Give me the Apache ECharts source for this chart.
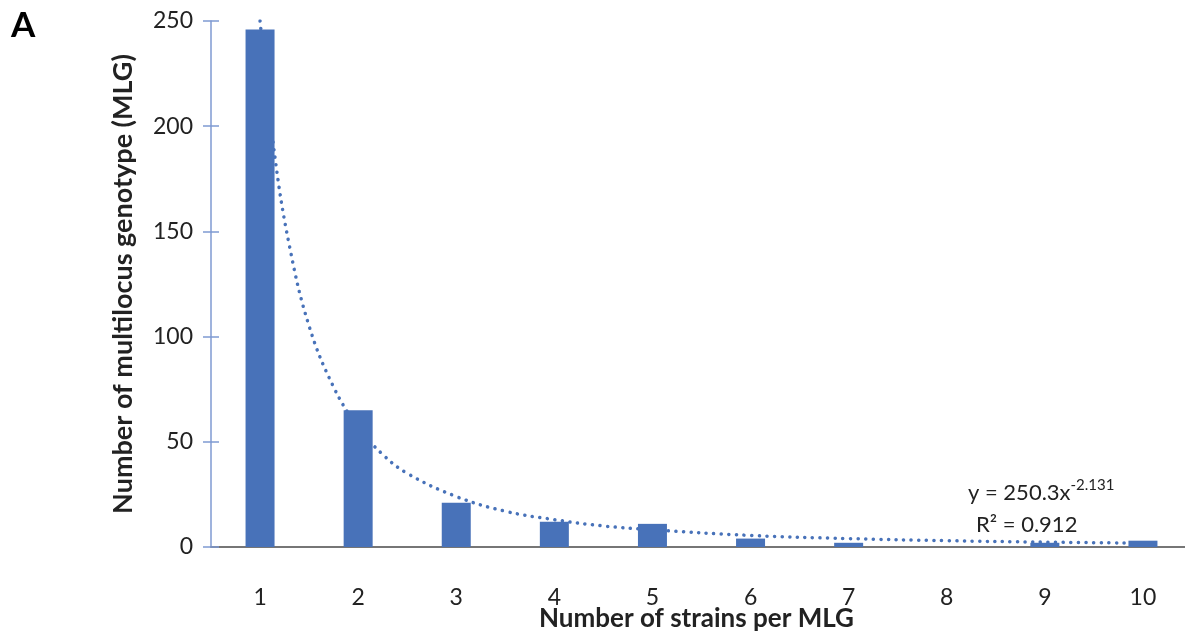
<!DOCTYPE html>
<html>
<head>
<meta charset="utf-8">
<script src="https://cdn.jsdelivr.net/npm/echarts@6/dist/echarts.min.js"></script>
<style>
  html, body { margin: 0; padding: 0; background: #fff; }
  #chart { width: 1185px; height: 637px; }
</style>
</head>
<body>
<div id="chart"></div>
<script>
// Strains per MLG histogram with the power trendline.
const strains = ["1", "2", "3", "4", "5", "6", "7", "8", "9", "10"];
const mlgCounts = [246, 65, 21, 12, 11, 4, 2, 0, 2, 3];

// Dotted trendline as [strains, MLG].
const trendX = [1, 1.15, 1.3, 1.5, 1.75, 2, 2.25, 2.5, 3, 3.5, 4, 4.5, 5, 6, 7, 8, 9, 10];
const trendY = [250, 186, 143, 105, 76, 57, 44, 35, 24, 17, 13, 10, 8.2, 5.5, 4, 3, 2.3, 1.85];

const yTicks = { min: 0, max: 250, interval: 50 };
const equation = ["y = 250.3x", "-2.131", "R² = 0.912"];

const blue = "#4872b9";
const axisBlue = "#7f9ad2";
const font = "Lato, 'Open Sans', sans-serif";

const chart = echarts.init(document.getElementById("chart"), null, { renderer: "canvas" });

chart.setOption({
  animation: false,
  backgroundColor: "#fff",
  textStyle: { fontFamily: font },
  grid: { left: 211, top: 21, width: 981, height: 526, outerBoundsMode: "none", containLabel: false },
  xAxis: [
    {
      type: "category",
      data: strains,
      name: "Number of strains per MLG",
      nameLocation: "middle",
      nameGap: 59,
      nameMoveOverlap: false,
      nameTextStyle: { fontSize: 26, fontWeight: "bold", color: "#222", fontFamily: font, padding: [0, 0, 0, -10] },
      axisLine: { lineStyle: { color: "#767676", width: 2 } },
      axisTick: { show: false },
      axisLabel: { fontSize: 23, color: "#222", margin: 39, fontFamily: font },
    },
    {
      type: "value",
      min: 0.5,
      max: 10.5,
      show: false,
    },
  ],
  yAxis: [
    {
      type: "value",
      min: yTicks.min,
      max: yTicks.max,
      interval: yTicks.interval,
      name: "Number of multilocus genotype (MLG)",
      nameLocation: "middle",
      nameGap: 74,
      nameMoveOverlap: false,
      nameTextStyle: { fontSize: 27, fontWeight: "bold", color: "#222", fontFamily: font },
      axisLine: { show: true, lineStyle: { color: axisBlue, width: 1.5 } },
      axisTick: { show: true, length: 8, lineStyle: { color: axisBlue, width: 1.5 } },
      axisLabel: { fontSize: 23, color: "#222", margin: 18, fontFamily: font },
      splitLine: { show: false },
    },
    {
      type: "value",
      position: "left",
      min: yTicks.min,
      max: yTicks.max,
      interval: yTicks.interval,
      axisLine: { show: false },
      axisTick: { show: true, inside: true, length: 8, lineStyle: { color: axisBlue, width: 1.5 } },
      axisLabel: { show: false },
      splitLine: { show: false },
    },
  ],
  series: [
    {
      name: "Trend",
      type: "line",
      xAxisIndex: 1,
      yAxisIndex: 0,
      smooth: 0.4,
      symbol: "none",
      z: 1,
      lineStyle: { color: blue, width: 3.5, type: [0.1, 7.5], cap: "round" },
      data: trendX.map((x, i) => [x, trendY[i]]),
    },
    {
      name: "MLG",
      type: "bar",
      xAxisIndex: 0,
      yAxisIndex: 0,
      barWidth: 29,
      z: 3,
      itemStyle: { color: blue },
      data: mlgCounts,
    },
  ],
  graphic: [
    {
      type: "text",
      left: 11,
      top: 8,
      style: { text: "A", font: "bold 35px " + font, fill: "#000" },
    },
    {
      type: "text",
      left: 968,
      top: 478,
      style: {
        text: "{a|" + equation[0] + "}{s|" + equation[1] + "}",
        rich: {
          a: { fontSize: 22, fontFamily: font, fill: "#222", color: "#222", lineHeight: 30 },
          s: { fontSize: 15, fontFamily: font, fill: "#222", color: "#222", lineHeight: 30, verticalAlign: "top", padding: [0, 0, 10, 0] },
        },
      },
    },
    {
      type: "text",
      left: 976,
      top: 514,
      style: { text: equation[2], font: "22px " + font, fill: "#222" },
    },
  ],
});
</script>
</body>
</html>
